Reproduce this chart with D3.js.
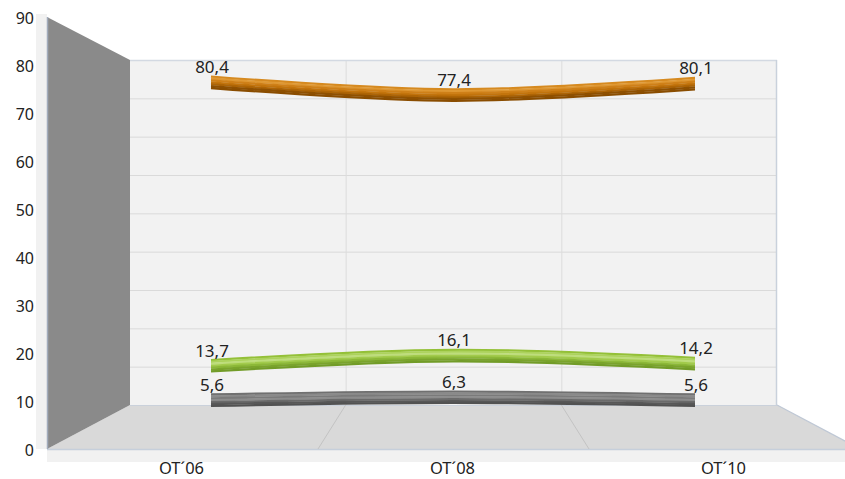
<!DOCTYPE html>
<html>
<head>
<meta charset="utf-8">
<script src="https://cdn.jsdelivr.net/npm/d3@7"></script>
<style>
  html, body { margin: 0; padding: 0; background: #ffffff; }
  svg { display: block; }
</style>
</head>
<body>
<svg id="chart" width="845" height="479"></svg>
<script>
// ---- data ----
const categories = ["OT´06", "OT´08", "OT´10"];
const seriesOrange = [80.4, 77.4, 80.1];
const seriesGreen = [13.7, 16.1, 14.2];
const seriesGray = [5.6, 6.3, 5.6];
const yTickValues = [0, 10, 20, 30, 40, 50, 60, 70, 80, 90];

// ---- styles ----
const bands = {
  orange: ["#d68a20", "#df9833", "#cf8018", "#c3740c", "#ad6405", "#8f5000", "#8a4d00"],
  green:  ["#94c038", "#acd25c", "#bedd7c", "#a2cb4c", "#8cb838", "#7aa42c", "#729c28"],
  gray:   ["#707070", "#8a8a8a", "#7a7a7a", "#8c8c8c", "#6a6a6a", "#585858", "#525252"]
};
const font = "'Noto Sans', 'Liberation Sans', sans-serif";

const svg = d3.select("#chart");

// geometry of the 3D box
const back = { x0: 130, x1: 777, y0: 405, y1: 60 };
const front = { x0: 47, x1: 860, y0: 449, y1: 17 };

// scales
const yFront = d3.scaleLinear().domain([0, 90]).range([front.y0, front.y1]);
const yBack = d3.scaleLinear().domain([0, 90]).range([back.y0, back.y1]);
const yMid = d3.scaleLinear().domain([0, 90]).range([423.8, 41.3]);
const xFront = d3.scaleBand().domain(categories).range([front.x0, front.x1]);
const xBack = d3.scaleBand().domain(categories).range([back.x0, back.x1]);
const xMid = d3.scalePoint().domain(categories).range([211, 695]);

// light wall/floor thickness strips
svg.append("rect").attr("x", 36).attr("y", 14).attr("width", 11).attr("height", front.y0 - 14)
  .attr("fill", "#f1f1f1");
svg.append("rect").attr("x", front.x0).attr("y", front.y0).attr("width", 845 - front.x0).attr("height", 13)
  .attr("fill", "#f1f1f1");

// back wall
svg.append("rect").attr("x", back.x0).attr("y", back.y1)
  .attr("width", back.x1 - back.x0).attr("height", back.y0 - back.y1)
  .attr("fill", "#f2f2f2");

// horizontal gridlines on back wall
svg.append("g").selectAll("line").data(yTickValues.filter(v => v > 0 && v < 90)).join("line")
  .attr("x1", back.x0).attr("x2", back.x1)
  .attr("y1", d => yBack(d) + 0.5).attr("y2", d => yBack(d) + 0.5)
  .attr("stroke", "#dadada").attr("stroke-width", 1);

// vertical gridlines on back wall (category boundaries)
const innerBounds = categories.slice(1);
svg.append("g").selectAll("line").data(innerBounds).join("line")
  .attr("x1", d => xBack(d) + 0.5).attr("x2", d => xBack(d) + 0.5)
  .attr("y1", back.y1).attr("y2", back.y0)
  .attr("stroke", "#dcdcdc").attr("stroke-width", 1);

// back wall borders
svg.append("line").attr("x1", back.x0).attr("x2", back.x1).attr("y1", back.y1 + 0.5).attr("y2", back.y1 + 0.5)
  .attr("stroke", "#d3d9e2").attr("stroke-width", 1.5);
svg.append("line").attr("x1", back.x1 - 0.5).attr("x2", back.x1 - 0.5).attr("y1", back.y1).attr("y2", back.y0)
  .attr("stroke", "#c9d1dc").attr("stroke-width", 1.5);

// floor
svg.append("polygon")
  .attr("points", [[back.x0, back.y0], [back.x1, back.y0], [front.x1, front.y0], [front.x0, front.y0]].map(p => p.join(",")).join(" "))
  .attr("fill", "#d9d9d9");
svg.append("line").attr("x1", back.x0).attr("x2", back.x1).attr("y1", back.y0 + 0.5).attr("y2", back.y0 + 0.5)
  .attr("stroke", "#cad1db").attr("stroke-width", 1);
svg.append("line").attr("x1", back.x1).attr("y1", back.y0).attr("x2", front.x1).attr("y2", front.y0)
  .attr("stroke", "#bfc8d5").attr("stroke-width", 1.2);
svg.append("line").attr("x1", front.x0).attr("x2", 845).attr("y1", front.y0 + 0.5).attr("y2", front.y0 + 0.5)
  .attr("stroke", "#c6cfdb").attr("stroke-width", 1.5);

// floor dividers
svg.append("g").selectAll("line").data(innerBounds).join("line")
  .attr("x1", d => xBack(d)).attr("y1", back.y0)
  .attr("x2", d => xFront(d)).attr("y2", front.y0)
  .attr("stroke", "#c3c3c3").attr("stroke-width", 1);

// left wall
svg.append("polygon")
  .attr("points", [[front.x0, front.y1], [back.x0, back.y1], [back.x0, back.y0], [front.x0, front.y0]].map(p => p.join(",")).join(" "))
  .attr("fill", "#8a8a8a");
svg.append("line").attr("x1", front.x0 + 0.5).attr("x2", front.x0 + 0.5).attr("y1", front.y1).attr("y2", front.y0)
  .attr("stroke", "#a2acbc").attr("stroke-width", 1.5);

// series ribbons
const line = d3.line()
  .x((d, i) => xMid(categories[i]))
  .y(d => yMid(d))
  .curve(d3.curveCatmullRom.alpha(0.5));

const series = [
  { values: seriesOrange, colors: bands.orange },
  { values: seriesGreen, colors: bands.green },
  { values: seriesGray, colors: bands.gray }
];

const ribbonG = svg.append("g");
series.forEach(s => {
  const g = ribbonG.append("g");
  s.colors.forEach((c, k) => {
    const off = -5.5 + k * 1.9;
    g.append("path")
      .attr("d", line(s.values))
      .attr("transform", `translate(0,${off})`)
      .attr("fill", "none")
      .attr("stroke", c)
      .attr("stroke-width", 2.3)
      .attr("stroke-linecap", "butt");
  });
});

// data labels
const fmt = v => d3.format(".1f")(v).replace(".", ",");
series.forEach(s => {
  svg.append("g").selectAll("text").data(s.values).join("text")
    .attr("x", (d, i) => xMid(categories[i]) + 1)
    .attr("y", d => yMid(d) - 9)
    .attr("text-anchor", "middle")
    .attr("font-family", font)
    .attr("font-size", 17)
    .attr("fill", "#222222")
    .text(d => fmt(d));
});

// y axis labels
svg.append("g").selectAll("text").data(yTickValues).join("text")
  .attr("x", 34)
  .attr("y", d => yFront(d) + 1)
  .attr("text-anchor", "end")
  .attr("dominant-baseline", "central")
  .attr("font-family", font)
  .attr("font-size", 16)
  .attr("fill", "#222222")
  .text(d => d);

// category labels
svg.append("g").selectAll("text").data(categories).join("text")
  .attr("x", d => xFront(d) + xFront.bandwidth() / 2 - 1)
  .attr("y", 474)
  .attr("text-anchor", "middle")
  .attr("font-family", font)
  .attr("font-size", 16.5)
  .attr("fill", "#222222")
  .text(d => d);
</script>
</body>
</html>
